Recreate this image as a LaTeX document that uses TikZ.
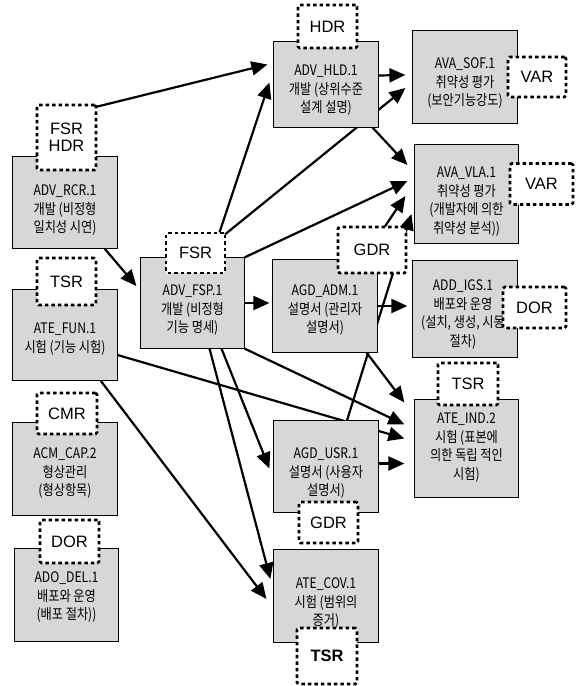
\documentclass[tikz,border=0pt]{standalone}
\usepackage{fontspec}
\setmainfont{Liberation Sans}
\newfontfamily\kr[FakeStretch=0.84]{Noto Sans CJK KR}
\usetikzlibrary{arrows.meta,calc}
\definecolor{boxgray}{RGB}{214,216,213}
\tikzset{
  gbox/.style={draw=black, line width=1.2pt, fill=boxgray, inner sep=0pt},
  txt/.style={anchor=north, inner sep=0pt, align=center, font=\kr\fontsize{14.5}{18.7}\selectfont},
  tag/.style={draw=black, fill=white, line width=2.6pt, dash pattern=on 3.5pt off 3pt,
    rounded corners=1.5pt, inner sep=0pt, align=center,
    font=\fontsize{16.5}{17}\selectfont},
  arr/.style={line width=2.2pt, -{Triangle[length=16pt,width=14pt]}}
}
\begin{document}
\begin{tikzpicture}[x=1pt,y=-1pt]
\useasboundingbox (0,0) rectangle (578,686);
% ---------- boxes (coordinates only, drawn later) ----------
\path
  node[gbox, minimum width=104pt, minimum height=91pt] (rcr) at (65,202.5) {}
  node[gbox, minimum width=104pt, minimum height=90pt] (fun) at (65,335) {}
  node[gbox, minimum width=104pt, minimum height=92pt] (cap) at (65,469) {}
  node[gbox, minimum width=103pt, minimum height=92pt] (del) at (66.5,595) {}
  node[gbox, minimum width=103pt, minimum height=90pt] (fsp) at (192.5,303) {}
  node[gbox, minimum width=104pt, minimum height=85pt] (hld) at (326,84.5) {}
  node[gbox, minimum width=104pt, minimum height=92pt] (sof) at (465,77) {}
  node[gbox, minimum width=103pt, minimum height=98pt] (vla) at (466.5,194) {}
  node[gbox, minimum width=104pt, minimum height=92pt] (adm) at (325,306) {}
  node[gbox, minimum width=104pt, minimum height=96pt] (igs) at (465,309) {}
  node[gbox, minimum width=103pt, minimum height=97pt] (ind) at (466.5,448.5) {}
  node[gbox, minimum width=104pt, minimum height=91pt] (usr) at (326,466.5) {}
  node[gbox, minimum width=104pt, minimum height=92pt] (cov) at (326,596) {};
% ---------- connectors (behind boxes) ----------
\draw[arr] ($(rcr.north)+(31,-49.5)$) -- ($(hld.west)+(-6,-20)$);
\draw[arr] ($(rcr.south east)+(-13,0)$) -- ($(fsp.west)+(-4,-17)$);
\draw[arr] ($(fsp.north)+(27,-25)$) -- ($(hld.west)+(-4,-2)$);
\draw[arr] ($(fsp.north)+(32.5,-23)$) -- ($(sof.west)+(-7,11)$);
\draw[arr] ($(hld.east)+(0,-9)$) -- ($(sof.west)+(-7,-2)$);
\draw[arr] ($(hld.south east)+(-6,0)$) -- ($(vla.west)+(-7,-29)$);
\draw[arr] (fsp.north east) -- ($(vla.west)+(-7,-13)$);
\draw[arr] ($(adm.north)+(60,-33)$) -- ($(vla.west)+(-9,2)$);
\draw[arr] ($(usr.north)+(21,0)$) -- ($(vla.west)+(-3,20)$);
\draw[arr] ($(fsp.east)+(0,0)$) -- ($(adm.west |- fsp.east)+(-3,0)$);
\draw[arr] (adm.east) -- ($(igs.west |- adm.east)+(-5,0)$);
\draw[arr] ($(adm.south east)+(-11,0)$) -- ($(ind.west)+(-10,-46)$);
\draw[arr] (fsp.south east) -- ($(ind.west)+(-10,-24)$);
\draw[arr] ($(fun.east)+(0,20)$) -- ($(ind.west)+(-10,-10)$);
\draw[arr] ($(usr.east)+(0,-3)$) -- ($(ind.west |- usr.east)+(-10,-3)$);
\draw[arr] ($(fsp.south)+(29,0)$) -- ($(usr.west)+(-4,2)$);
\draw[arr] ($(fsp.south)+(17,0)$) -- ($(cov.west)+(-3,-17)$);
\draw[arr] ($(fun.south east)+(-17,0)$) -- ($(cov.west)+(-7,3)$);
% ---------- boxes on top ----------
\foreach \b in {rcr,fun,cap,del,fsp,hld,sof,vla,adm,igs,ind,usr,cov}{
  \draw[gbox] (\b.north west) rectangle (\b.south east);
}
% ---------- box texts ----------
\node[txt] (rcrT) at (65,184.5) {ADV\_RCR.1\\개발 (비정형\\일치성 시연)};
\node[txt] (funT) at (65,322.5) {ATE\_FUN.1\\시험 (기능 시험)};
\node[txt] (capT) at (65,447.5) {ACM\_CAP.2\\형상관리\\(형상항목)};
\node[txt] (delT) at (66.5,571.5) {ADO\_DEL.1\\배포와 운영\\(배포 절차))};
\node[txt] (fspT) at (192.5,284.5) {ADV\_FSP.1\\개발 (비정형\\기능 명세)};
\node[txt] (hldT) at (326,64.5) {ADV\_HLD.1\\개발 (상위수준\\설계 설명)};
\node[txt] (sofT) at (465,57.5) {AVA\_SOF.1\\취약성 평가\\(보안기능강도)};
\node[txt] (vlaT) at (466.5,166.5) {AVA\_VLA.1\\취약성 평가\\(개발자에 의한\\취약성 분석))};
\node[txt] (admT) at (325,284.5) {AGD\_ADM.1\\설명서 (관리자\\설명서)};
\node[txt] (igsT) at (463,279.5) {ADD\_IGS.1\\배포와 운영\\(설치, 생성, 시동\\절차)};
\node[txt] (indT) at (466.5,412.5) {ATE\_IND.2\\시험 (표본에\\의한 독립 적인\\시험)};
\node[txt] (usrT) at (326,447.5) {AGD\_USR.1\\설명서 (사용자\\설명서)};
\node[txt] (covT) at (326,577.5) {ATE\_COV.1\\시험 (범위의\\증거)};
% ---------- dashed tags ----------
\node[tag, minimum width=59pt, minimum height=65pt] (rcrtag) at (66.5,137.5) {FSR\\HDR};
\node[tag, minimum width=59pt, minimum height=47pt] (funtag) at (66.5,281.5) {TSR};
\node[tag, minimum width=60pt, minimum height=41pt] (captag) at (67,413.5) {CMR};
\node[tag, minimum width=59pt, minimum height=43pt] (deltag) at (69.5,541.5) {DOR};
\node[tag, minimum width=59pt, minimum height=40pt] (fsptag) at (195.5,253) {FSR};
\node[tag, minimum width=59pt, minimum height=43pt] (hldtag) at (327.5,26.5) {HDR};
\node[tag, minimum width=58pt, minimum height=40pt] (softag) at (537,77) {VAR};
\node[tag, minimum width=63pt, minimum height=41pt] (vlatag) at (541.5,184) {VAR};
\node[tag, minimum width=68pt, minimum height=46pt] (admtag) at (372,250) {GDR};
\node[tag, minimum width=63pt, minimum height=41pt] (igstag) at (534.5,307.5) {DOR};
\node[tag, minimum width=60pt, minimum height=42pt] (indtag) at (468,384) {TSR};
\node[tag, minimum width=59pt, minimum height=41pt] (usrtag) at (328.5,522.5) {GDR};
\node[tag, minimum width=60pt, minimum height=56pt, font=\bfseries\fontsize{16.5}{17}\selectfont] (covtag) at (327,656) {TSR};
\end{tikzpicture}
\end{document}
